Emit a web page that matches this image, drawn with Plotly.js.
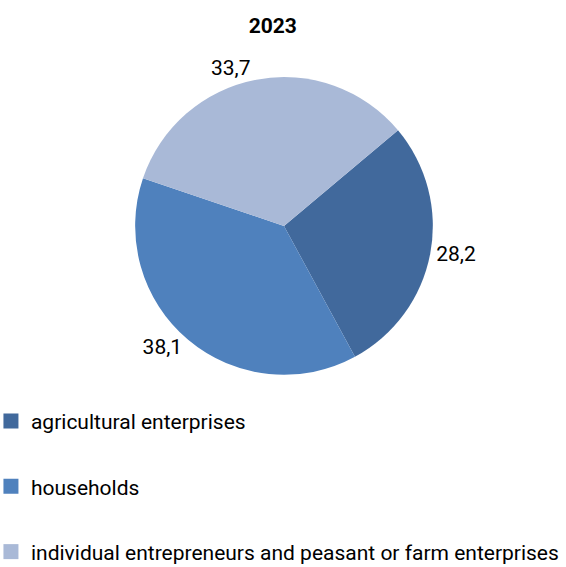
<!DOCTYPE html>
<html><head><meta charset="utf-8">
<script src="https://cdn.plot.ly/plotly-3.0.1.min.js"></script>
<style>html,body{margin:0;padding:0;background:#fff}</style>
</head><body>
<div id="chart" style="width:566px;height:567px"></div>
<script>
const categories = ["agricultural enterprises", "households", "individual entrepreneurs and peasant or farm enterprises"];
const values = [28.2, 38.1, 33.7];
const colors = ["#41699c", "#4f81bd", "#a9b9d7"];
const chartTitle = "2023";

const pie = {
  type: "pie",
  labels: categories,
  values: values,
  sort: false,
  direction: "clockwise",
  rotation: 50,
  marker: {colors: colors, line: {width: 0}},
  textinfo: "value",
  texttemplate: "%{value:.1f}",
  textposition: "outside",
  outsidetextfont: {family: "Roboto", size: 21, color: "#000"},
  showlegend: false,
  automargin: false,
  hoverinfo: "label+value",
  domain: {x: [0.2385, 0.765], y: [0.339, 0.864]}
};
const legendTraces = categories.map((c, i) => ({
  type: "scatter", mode: "markers", x: [null], y: [null],
  name: c, legendgroup: "g" + i,
  marker: {symbol: "square", size: 15, color: colors[i]},
  xaxis: "x", yaxis: "y", hoverinfo: "skip"
}));

const layout = {
  width: 566, height: 567,
  margin: {l: 0, r: 0, t: 0, b: 0, autoexpand: false},
  paper_bgcolor: "#fff", plot_bgcolor: "#fff",
  separators: ", ",
  font: {family: "Roboto", size: 21, color: "#000"},
  title: {text: "<b>" + chartTitle + "</b>", x: 0.482, xanchor: "center", y: 0.955, yanchor: "middle",
          font: {family: "Roboto", size: 21, color: "#000"}},
  xaxis: {visible: false, domain: [0, 0.01]},
  yaxis: {visible: false, domain: [0, 0.01]},
  showlegend: true,
  legend: {x: -0.016, xanchor: "left", y: 0.293, yanchor: "top", orientation: "v",
           traceorder: "grouped", tracegroupgap: 35,
           font: {family: "Roboto", size: 21, color: "#000"}, bgcolor: "rgba(0,0,0,0)"}
};
Plotly.newPlot("chart", [pie, ...legendTraces], layout, {displayModeBar: false, staticPlot: true});
</script>
</body></html>
